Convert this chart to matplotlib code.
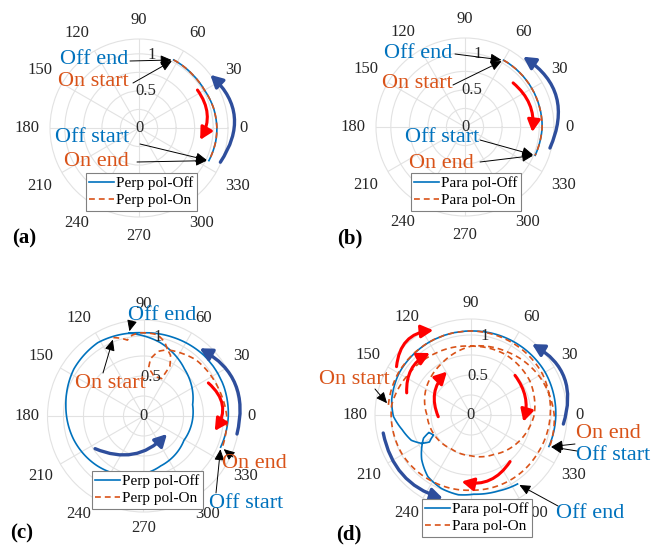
import numpy as np
import matplotlib
matplotlib.use('Agg')
import matplotlib.pyplot as plt

plt.rcParams['font.family'] = ['Liberation Serif', 'DejaVu Serif']

W, H = 651, 552
fig = plt.figure(figsize=(W / 100, H / 100), dpi=100)
fig.patch.set_facecolor('white')

BLUE = '#0072BD'
ORANGE = '#D95319'
NAVY = '#2E4E9C'
RED = '#FF0000'
GRID = '#e2e2e2'
TXT = '#262626'

# ---------------- data (theta in degrees, normalised amplitude) ----------------
a_off_theta = [-25, -10, 0, 15, 30, 45, 63]
a_off_r = [1.04, 1.05, 1.05, 1.04, 1.02, 1.02, 1.03]
a_on_theta = [63, 45, 30, 15, 0, -10, -25]
a_on_r = [1.03, 1.02, 1.02, 1.04, 1.05, 1.05, 1.04]

b_off_theta = [-22, -10, 0, 15, 30, 45, 60]
b_off_r = [1.02, 1.03, 1.04, 1.04, 1.04, 1.04, 1.04]
b_on_theta = [60, 45, 30, 15, 0, -10, -22]
b_on_r = [1.04, 1.04, 1.04, 1.04, 1.04, 1.03, 1.02]

c_off_theta = [-22, 0, 20, 45, 70, 90, 100, 122, 146, 172, 199, 227, 256, 289,
               329, 373, 409, 437, 460]
c_off_r = [1.04, 1.06, 1.07, 1.07, 1.05, 1.04, 1.05, 1.08, 1.05, 0.98, 0.92,
           0.85, 0.77, 0.66, 0.59, 0.63, 0.78, 0.94, 1.05]
c_on_theta = [111, 106, 102, 98, 93, 88, 80, 74, 70, 77, 83, 84, 75, 64, 62,
              66, 70, 58, 47, 33, 19, 0, -22]
c_on_r = [1.05, 1.01, 0.97, 1.02, 1.04, 1.04, 1.03, 0.96, 0.88, 0.83, 0.72,
          0.60, 0.51, 0.52, 0.70, 0.83, 0.88, 0.92, 0.96, 0.98, 1.00, 1.04, 1.06]

d_off_theta = [-22, 0, 30, 60, 90, 120, 150, 169, 181, 192, 203, 210, 213, 208,
               202.5, 206, 212.7, 222, 235, 248, 261, 272, 290, 304]
d_off_r = [1.05, 1.06, 1.07, 1.06, 1.05, 1.05, 1.04, 1.01, 0.97, 0.88, 0.81,
           0.71, 0.62, 0.53, 0.57, 0.66, 0.73, 0.83, 0.94, 0.99, 1.01, 0.99,
           1.01, 1.04]
d_on_theta = [173, 150, 120, 90, 60, 30, 0, -30, -60, -90, -120, -150, -187,
              -210, -240, -270, -300, -330, -360, -390, -420, -450, -480, -510,
              -540, -570, -600, -630, -660, -690, -720, -742]
d_on_r = [1.04, 1.05, 1.05, 1.05, 1.04, 1.03, 0.99, 0.96, 0.95, 0.94, 0.96,
          0.99, 1.00, 0.94, 0.89, 0.86, 0.87, 0.85, 0.79, 0.68, 0.57, 0.51,
          0.49, 0.52, 0.55, 0.65, 0.74, 0.86, 0.91, 0.98, 1.04, 1.06]

angle_ticks = list(range(0, 360, 30))
r_tick_values = [0, 0.5, 1]
r_tick_labels = ['0', '0.5', '1']
r_grid = [0.25, 0.5, 0.75, 1.0]
RMAX = 1.2


def fx(x):
    return x / W


def fy(y):
    return 1 - y / H


def make_ax(cx, cy, R, lab_off):
    ax = fig.add_axes([(cx - R) / W, 1 - (cy + R) / H, 2 * R / W, 2 * R / H],
                      projection='polar')
    ax.set_ylim(0, RMAX)
    ax.set_xticks(np.radians(angle_ticks))
    ax.set_xticklabels([])
    ax.set_yticks(r_grid)
    ax.set_yticklabels([])
    ax.tick_params(length=0)
    ax.grid(True, color=GRID, lw=0.8)
    ax.spines['polar'].set_color(GRID)
    ax.spines['polar'].set_linewidth(0.8)
    rl = RMAX * (R + lab_off) / R
    for a in angle_ticks:
        t = np.radians(a)
        c, s = np.cos(t), np.sin(t)
        ha = 'left' if c > 0.1 else ('right' if c < -0.1 else 'center')
        va = 'bottom' if s > 0.1 else ('top' if s < -0.1 else 'center')
        ax.text(t, rl, str(a), ha=ha, va=va, fontsize=12, color=TXT,
                clip_on=False)
    for v, lab in zip(r_tick_values, r_tick_labels):
        ax.text(np.radians(80), v, lab, ha='center', va='center', fontsize=12,
                color=TXT, zorder=3)
    return ax


def smooth(line):
    # draw each segment as a curve in polar space (rendering only)
    line._path._interpolation_steps = 40


def curves(ax, th_off, r_off, th_on, r_on, labels, legend_box):
    l1, = ax.plot(np.radians(th_off), r_off, color=BLUE, lw=1.2, zorder=2,
                  label=labels[0])
    l2, = ax.plot(np.radians(th_on), r_on, color=ORANGE, lw=1.2,
                  ls=(0, (3.5, 2.4)), zorder=2.1, label=labels[1])
    smooth(l1)
    smooth(l2)
    x0, y0 = legend_box
    leg = ax.legend(handles=[l1, l2], loc='upper left',
                    bbox_to_anchor=(fx(x0), fy(y0)),
                    bbox_transform=fig.transFigure, borderaxespad=0,
                    fontsize=11, borderpad=0.22, labelspacing=0.22,
                    handlelength=1.6, handletextpad=0.15, fancybox=False,
                    framealpha=1, edgecolor='#808080')
    leg.get_frame().set_linewidth(0.8)
    leg.set_zorder(6)


def big_arrow(ax, t1, r1, t2, r2, rad, color, lw=2.4):
    ax.annotate('', xy=(np.radians(t2), r2), xytext=(np.radians(t1), r1),
                xycoords='data', textcoords='data',
                arrowprops=dict(arrowstyle='-|>,head_length=0.6,head_width=0.32',
                                connectionstyle='arc3,rad=%s' % rad,
                                color=color, lw=lw, shrinkA=0, shrinkB=0,
                                mutation_scale=12),
                annotation_clip=False, zorder=4)


def pointer(ax, x, y, t, r):
    ax.annotate('', xy=(np.radians(t), r), xycoords='data',
                xytext=(fx(x), fy(y)), textcoords='figure fraction',
                arrowprops=dict(arrowstyle='-|>,head_length=0.55,head_width=0.25',
                                color='black', lw=0.7, shrinkA=0, shrinkB=1.5,
                                mutation_scale=12),
                annotation_clip=False, zorder=5)


def label(x, y, s, color, ha='center'):
    fig.text(fx(x), fy(y), s, color=color, fontsize=16, ha=ha, va='center')


# ---------------- panel (a) ----------------
axa = make_ax(139, 128, 89, 11)
curves(axa, a_off_theta, a_off_r, a_on_theta, a_on_r,
       ['Perp pol-Off', 'Perp pol-On'], (86, 173))
big_arrow(axa, -22.8, 1.19, 36.7, 1.20, 0.42, NAVY)
big_arrow(axa, 33, 0.94, -11, 0.84, -0.32, RED, lw=2.2)
label(94, 60, 'Off end', BLUE)
label(93, 82, 'On start', ORANGE)
label(92, 137, 'Off start', BLUE)
label(96, 161, 'On end', ORANGE)
pointer(axa, 130, 61, a_off_theta[-1], a_off_r[-1])
pointer(axa, 133, 83, a_on_theta[0], a_on_r[0])
pointer(axa, 140, 144, a_off_theta[0], a_off_r[0])
pointer(axa, 137, 162, a_on_theta[-1], a_on_r[-1])

# ---------------- panel (b) ----------------
axb = make_ax(465, 127, 89, 11)
curves(axb, b_off_theta, b_off_r, b_on_theta, b_on_r,
       ['Para pol-Off', 'Para pol-On'], (411, 173))
big_arrow(axb, -13.9, 1.18, 50.4, 1.23, 0.42, NAVY)
big_arrow(axb, 42.5, 0.88, -4.3, 0.91, -0.27, RED, lw=2.2)
label(418, 53, 'Off end', BLUE)
label(417, 84, 'On start', ORANGE)
label(442, 137, 'Off start', BLUE)
label(441, 163, 'On end', ORANGE)
pointer(axb, 455, 54, b_off_theta[-1], b_off_r[-1])
pointer(axb, 453, 85, b_on_theta[0], b_on_r[0])
pointer(axb, 480, 140, b_off_theta[0], b_off_r[0])
pointer(axb, 480, 162, b_on_theta[-1], b_on_r[-1])

# ---------------- panel (c) ----------------
axc = make_ax(143.5, 416, 96, 8)
curves(axc, c_off_theta, c_off_r, c_on_theta, c_on_r,
       ['Perp pol-Off', 'Perp pol-On'], (92, 471))
big_arrow(axc, -10.9, 1.19, 50.3, 1.10, 0.38, NAVY)
big_arrow(axc, 214, 0.73, 322.5, 0.37, 0.34, NAVY)
big_arrow(axc, 27, 0.91, -11.8, 0.91, -0.43, RED, lw=2.2)
label(162, 316, 'Off end', BLUE)
label(110, 384, 'On start', ORANGE)
label(254, 464, 'On end', ORANGE)
label(246, 503, 'Off start', BLUE)
pointer(axc, 132, 321, c_off_theta[-1], c_off_r[-1])
pointer(axc, 103, 373, c_on_theta[0], c_on_r[0])
pointer(axc, 233, 457, c_on_theta[-1], c_on_r[-1])
pointer(axc, 216, 493, c_off_theta[0], c_off_r[0])

# ---------------- panel (d) ----------------
axd = make_ax(471, 415, 96, 8)
curves(axd, d_off_theta, d_off_r, d_on_theta, d_on_r,
       ['Para pol-Off', 'Para pol-On'], (422, 499))
big_arrow(axd, -5.6, 1.16, 49.3, 1.17, 0.40, NAVY)
big_arrow(axd, 191.6, 1.12, 251.4, 1.10, 0.30, NAVY)
big_arrow(axd, 147, 1.11, 114, 1.16, -0.41, RED, lw=2.2)
big_arrow(axd, 161, 0.85, 123.6, 0.93, -0.32, RED, lw=2.2)
big_arrow(axd, 183, 0.41, 119, 0.62, -0.33, RED, lw=2.2)
big_arrow(axd, 42, 0.74, -7.3, 0.66, -0.25, RED, lw=2.2)
big_arrow(axd, -50, 0.76, 262, 0.84, -0.34, RED, lw=2.2)
label(354, 379, 'On start', ORANGE)
label(608, 434, 'On end', ORANGE)
label(613, 456, 'Off start', BLUE)
label(590, 513, 'Off end', BLUE)
pointer(axd, 375, 389, d_on_theta[0], d_on_r[0])
pointer(axd, 575, 444, d_on_theta[-1], d_on_r[-1])
pointer(axd, 577, 451, d_off_theta[0], d_off_r[0])
pointer(axd, 558, 506, d_off_theta[-1], d_off_r[-1])

# panel letters
for (x, y, s) in [(24, 238, '(a)'), (350, 238, '(b)'), (22, 533, '(c)'),
                  (349, 534, '(d)')]:
    fig.text(fx(x), fy(y), s, fontsize=15, fontweight='bold', ha='center',
             va='center', color='black')

fig.savefig('out.png', dpi=100, facecolor='white')
